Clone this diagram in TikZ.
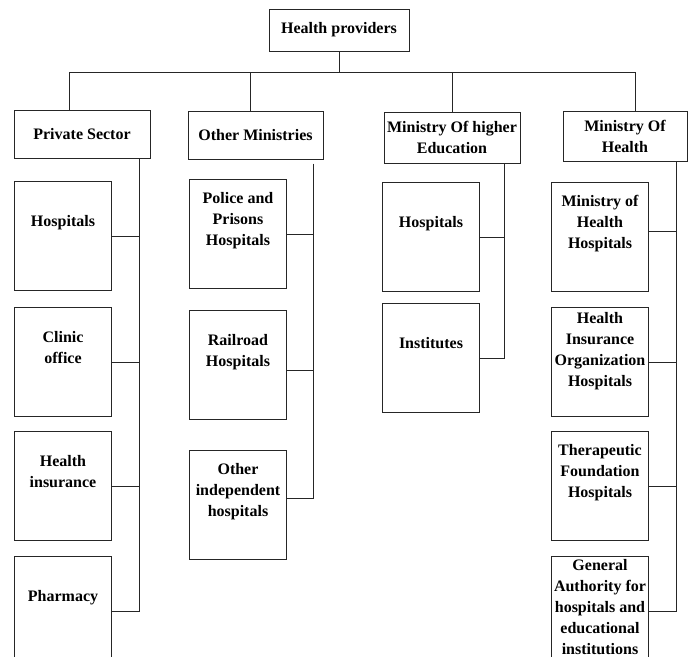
\documentclass[tikz,border=0pt]{standalone}
\usepackage{fontspec}
\setmainfont{Liberation Serif}
\usepackage{tikz}
\usetikzlibrary{positioning}
\tikzstyle{box} = [rectangle, draw=black!85, line width=1pt, font=\fontsize{16pt}{21pt}\selectfont\bfseries, align=flush center]
\tikzstyle{head} = [box, minimum width=140pt, minimum height=42pt]
\tikzstyle{branch} = [box, minimum height=48pt, inner sep=2pt]
\tikzstyle{leaf} = [box, text width=95pt, inner xsep=1pt, inner ysep=0pt]
\tikzstyle{one line} = [leaf, text height=45pt, text depth=64pt]
\tikzstyle{two lines} = [leaf, text height=35pt, text depth=74pt]
\tikzstyle{three lines} = [leaf, text height=24pt, text depth=85pt]
\tikzstyle{four lines} = [leaf, text height=16pt, text depth=93pt]
\tikzstyle{link} = [draw=black!85, line width=1pt]

\begin{document}
\begin{tikzpicture}[x=1pt, y=-1pt]
		\useasboundingbox (0,0) rectangle (692,656);
		\clip (0,0) rectangle (692,656);
		\node (Health providers)[head] at (339,30) {Health providers};
		\node (Private Sector)[branch, minimum width=136pt] at (82,134) {Private Sector};
		\node (Other Ministries)[branch, minimum width=135pt] at (255.5,135) {Other Ministries};
		\node (Ministry Of higher Education)[branch, minimum width=136pt, minimum height=51pt] at (452,137.5) {Ministry Of higher\\Education};
		\node (Ministry Of Health)[branch, minimum width=124pt, minimum height=50pt] at (625,136) {Ministry Of\\Health};
		% private sector
		\node (Private Hospitals)[one line, anchor=north west] at (14,181) {Hospitals};
		\node (Clinic office)[two lines, below=16pt of Private Hospitals] {Clinic\\office};
		\node (Health insurance)[two lines, below=14pt of Clinic office] {Health\\insurance};
		\node (Pharmacy)[one line, below=15pt of Health insurance] {Pharmacy};
		% other ministries
		\node (Police)[three lines, anchor=north west] at (189,179) {Police and\\Prisons\\Hospitals};
		\node (Railroad)[two lines, below=21pt of Police] {Railroad\\Hospitals};
		\node (Other independent)[three lines, below=30pt of Railroad] {Other\\independent\\hospitals};
		% higher education
		\node (Education Hospitals)[one line, anchor=north west] at (382,182) {Hospitals};
		\node (Institutes)[one line, below=11pt of Education Hospitals] {Institutes};
		% ministry of health
		\node (Ministry Hospitals)[three lines, anchor=north west] at (551,182) {Ministry of\\Health\\Hospitals};
		\node (Insurance Organization)[four lines, below=15pt of Ministry Hospitals] {Health\\Insurance\\Organization\\Hospitals};
		\node (Therapeutic)[three lines, below=14pt of Insurance Organization] {Therapeutic\\Foundation\\Hospitals};
		\node (General Authority)[four lines, text height=14pt, text depth=95pt, below=15pt of Therapeutic] {General\\Authority for\\hospitals and\\educational\\institutions};

		\coordinate (bus) at (0,72);
		\draw [link] (Health providers) -- (Health providers |- bus);
		\draw [link] ([xshift=-13pt]Private Sector.north) |- ([xshift=10pt]Ministry Of Health.north |- bus) -- ([xshift=10pt]Ministry Of Health.north);
		\draw [link] ([xshift=-5.5pt]Other Ministries.north) -- ([xshift=-5.5pt]Other Ministries.north |- bus);
		\draw [link] (Ministry Of higher Education) -- (Ministry Of higher Education |- bus);

		\coordinate (ps bus) at ([xshift=-11pt]Private Sector.south east);
		\draw [link] (ps bus) |- (Pharmacy.east);
		\foreach \n in {Private Hospitals, Clinic office, Health insurance}
			\draw [link] (\n.east) -- (\n.east -| ps bus);

		\coordinate (om bus) at ([xshift=-10pt, yshift=-4pt]Other Ministries.south east);
		\draw [link] (om bus) |- ([yshift=7pt]Other independent.east);
		\draw [link] (Police.east) -- (Police.east -| om bus);
		\draw [link] ([yshift=-5.5pt]Railroad.east) -- ([yshift=-5.5pt]Railroad.east -| om bus);

		\coordinate (he bus) at ([xshift=-16pt]Ministry Of higher Education.south east);
		\draw [link] (he bus) |- (Institutes.east);
		\draw [link] (Education Hospitals.east) -- (Education Hospitals.east -| he bus);

		\coordinate (moh bus) at ([xshift=-11pt]Ministry Of Health.south east);
		\draw [link] (moh bus) |- (General Authority.east);
		\draw [link] ([yshift=6pt]Ministry Hospitals.east) -- ([yshift=6pt]Ministry Hospitals.east -| moh bus);
		\foreach \n in {Insurance Organization, Therapeutic}
			\draw [link] (\n.east) -- (\n.east -| moh bus);
	\end{tikzpicture}
\end{document}
